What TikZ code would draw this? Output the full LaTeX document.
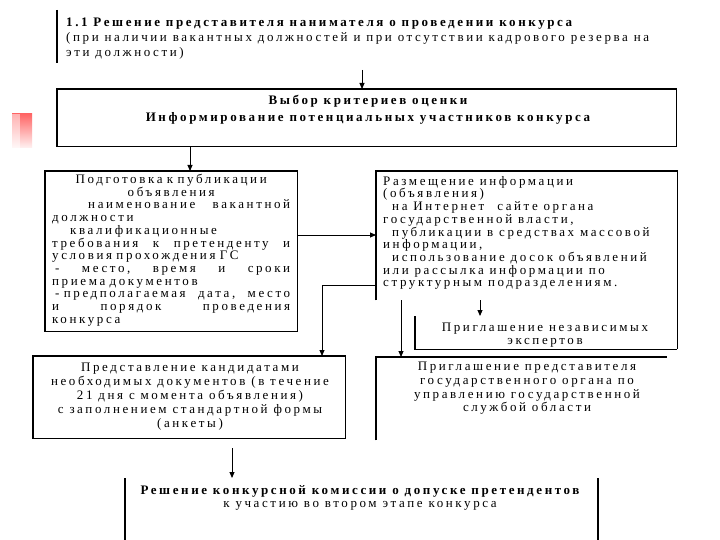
\documentclass[tikz,border=0pt]{standalone}
\usepackage{fontspec}
\setmainfont{Liberation Serif}
\newfontfamily\wf[LetterSpace=20]{Liberation Serif}
\usetikzlibrary{arrows.meta}
\newcommand{\jline}[2][l]{\makebox[\linewidth][#1]{#2}}
\begin{document}
\begin{tikzpicture}[x=1pt,y=-1pt,
  frame/.style={line width=1.1pt},
  bar/.style={line width=2pt},
  arr/.style={line width=0.9pt,-{Triangle[length=6pt,width=5pt]}},
  area/.style={inner sep=0pt,anchor=north west},
  txt/.style={inner sep=0pt,font=\fontsize{13}{12.7}\selectfont\wf},
]
\useasboundingbox (0,0) rectangle (720,540);
\fill[white] (0,0) rectangle (720,540);
\shade[top color=red!60, bottom color=red!5] (12,114) rectangle (32,148);
\fill[white, opacity=0.5] (12,114) rectangle (20,148);

% areas
\node[area, minimum width=620pt, minimum height=53pt] (b1) at (57,10) {};
\node[area, minimum width=619pt, minimum height=57pt] (b2) at (57,89) {};
\node[area, minimum width=252pt, minimum height=160pt] (b3) at (45,171) {};
\node[area, minimum width=301pt, minimum height=129pt] (b4) at (376,171) {};
\node[area, minimum width=262pt, minimum height=33pt] (b5) at (415,316) {};
\node[area, minimum width=312pt, minimum height=82pt] (b6) at (33,356) {};
\node[area, minimum width=291pt, minimum height=83pt] (b7) at (376,357) {};
\node[area, minimum width=473pt, minimum height=62pt] (b8) at (125,478) {};

% borders
\draw[bar] (b1.north west) -- (b1.south west);
\draw[frame] (b2.north west) rectangle (b2.south east);
\draw[frame] (b3.north west) rectangle (b3.south east);
\draw[frame] (b4.south west) -- (b4.north west) -- (b4.north east) -- (b4.north east |- b5.south);
\draw[frame] (b5.north west) -- (b5.south west) -- (b5.south east);
\draw[frame] (b6.north west) rectangle (b6.south east);
\draw[frame] (b7.south west) -- (b7.north west) -- (b7.north east);
\draw[bar] (b8.north west) -- (b8.south west);
\draw[bar] (b8.north east) -- (b8.south east);

% texts
\node[txt, anchor=north west, align=left, font=\fontsize{13}{15}\selectfont\wf] (t1) at (66,18)
  {{\bfseries 1.1 Решение представителя нанимателя о проведении конкурса}\\
   (при наличии вакантных должностей и при отсутствии кадрового резерва на\\
   эти должности)};
\node[txt, anchor=north, align=center, font=\fontsize{13}{17}\selectfont\wf\bfseries] (t2) at (368,95)
  {Выбор критериев оценки\\ Информирование потенциальных участников конкурса};
\node[txt, anchor=north west, text width=238pt, align=left] (t3) at (52,174)
  {\jline[c]{Подготовка к публикации}\\
   \jline[c]{объявления}\\
   \jline{\hspace*{36pt}наименование\hfill вакантной}\\
   \jline{должности}\\
   \jline{\hspace*{18pt}квалификационные}\\
   \jline{требования\hfill к\hfill претенденту\hfill и}\\
   \jline{условия прохождения ГС}\\
   \jline{\hspace*{3pt}-\hfill место,\hfill время\hfill и\hfill сроки}\\
   \jline{приема документов}\\
   \jline{\hspace*{3pt}- предполагаемая\hfill дата,\hfill место}\\
   \jline{и\hfill порядок\hfill проведения}\\
   \jline{конкурса}};
\node[txt, anchor=north west, align=left] (t4) at (383,176)
  {Размещение информации\\
   (объявления)\\
   \hspace*{9pt}на Интернет\quad сайте органа\\
   государственной власти,\\
   \hspace*{9pt}публикации в средствах массовой\\
   информации,\\
   \hspace*{9pt}использование досок объявлений\\
   или рассылка информации по\\
   структурным подразделениям.};
\node[txt, anchor=north, align=center] (t5) at (545,323)
  {Приглашение независимых\\ экспертов};
\node[txt, anchor=north, align=center, font=\fontsize{13}{14}\selectfont\wf] (t6) at (190,363)
  {Представление кандидатами\\
   необходимых документов (в течение\\
   21 дня с момента объявления)\\
   с заполнением стандартной формы\\
   (анкеты)};
\node[txt, anchor=north, align=center, font=\fontsize{13}{13.7}\selectfont\wf] (t7) at (527,362)
  {Приглашение представителя\\
   государственного органа по\\
   управлению государственной\\
   службой области};
\node[txt, anchor=north, align=center, font=\fontsize{13}{13}\selectfont\wf] (t8) at (360,485)
  {{\bfseries Решение конкурсной комиссии о допуске претендентов}\\
   к участию во втором этапе конкурса};

% connectors
\coordinate (c362) at (362,70);
\coordinate (c190) at (190,0);
\coordinate (h235) at (0,235);
\coordinate (h285) at (0,285);
\coordinate (c322) at (322,0);
\coordinate (c401) at (401,0);
\coordinate (c480) at (480,0);
\coordinate (c232) at (232,448);
\draw[arr] (c362) -- (c362 |- b2.north);
\draw[arr] (b2.south -| c190) -- (b3.north -| c190);
\draw[arr] (b3.east |- h235) -- (b4.west |- h235);
\draw[arr] (b4.west |- h285) -- (c322 |- h285) -- (b6.north -| c322);
\draw[arr] (b4.south -| c401) -- (b7.north -| c401);
\draw[arr] (b4.south -| c480) -- (b5.north -| c480);
\draw[arr] (c232) -- (c232 |- b8.north);
\end{tikzpicture}
\end{document}
